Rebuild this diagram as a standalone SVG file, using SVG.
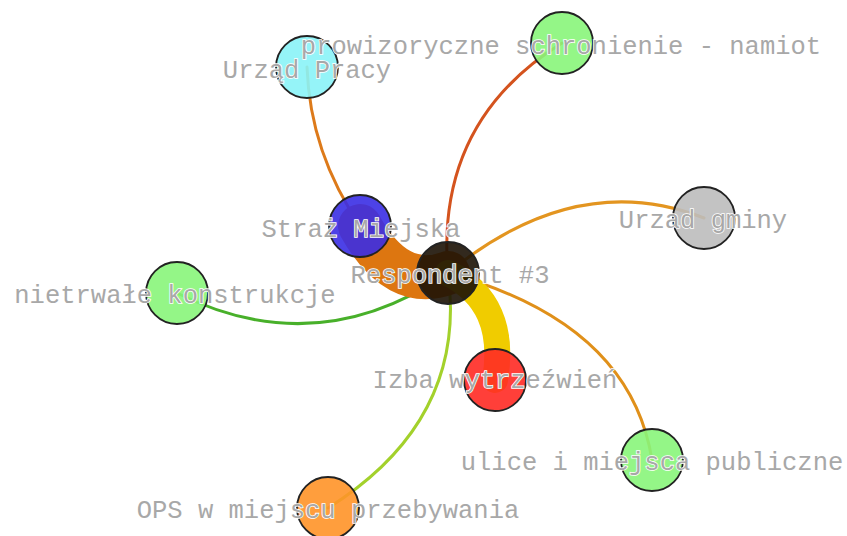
<svg xmlns="http://www.w3.org/2000/svg" width="847" height="536" viewBox="0 0 847 536">
<style>
.e{fill:none;stroke-linecap:round}
.n circle{stroke:#222;stroke-width:1.8;fill-opacity:0.9}
.l{font-family:"Liberation Mono","Courier New",monospace;font-size:25.5px;fill:#a8a8a8;stroke:#fff;stroke-width:1.6;paint-order:stroke;text-anchor:middle}
</style>
<rect width="847" height="536" fill="#fff"/>
<g id="edges">
<path class="e" d="M361,227 Q310,153 307,67" stroke="#dd7a1a" stroke-width="3"/>
<path class="e" d="M448,273 Q435,122 562,43" stroke="#d4531e" stroke-width="3"/>
<path class="e" d="M448,273 Q576,168 704,218" stroke="#e39520" stroke-width="3"/>
<path class="e" d="M448,273 Q630,323 652,460" stroke="#e0901a" stroke-width="3"/>
<path class="e" d="M448,273 Q468,420 328,508" stroke="#a3d12b" stroke-width="3"/>
<path class="e" d="M448,273 Q317,363 177,293" stroke="#48b02a" stroke-width="3"/>
<path class="e" d="M360,226 Q397,292 448,273" stroke="#dd7610" stroke-width="44"/>
<path class="e" d="M448,273 Q508,303 495,380" stroke="#f0cc00" stroke-width="26"/>
</g>
<g id="n-pracy" class="n"><circle cx="307" cy="67" r="31" fill="#8af3f7"/></g>
<g id="n-prow" class="n"><circle cx="562" cy="43" r="31" fill="#88f57a"/></g>
<g id="n-straz" class="n"><circle cx="360" cy="226" r="31" fill="#3a2de4"/></g>
<g id="n-gminy" class="n"><circle cx="704" cy="218" r="31" fill="#bdbdbd"/></g>
<g id="n-niet" class="n"><circle cx="177" cy="293" r="31" fill="#88f57a"/></g>
<g id="n-resp" class="n"><circle cx="448" cy="273" r="31" fill="#1c1205"/></g>
<g id="n-izba" class="n"><circle cx="495" cy="380" r="31" fill="#ff2a24"/></g>
<g id="n-ulice" class="n"><circle cx="652" cy="460" r="31" fill="#88f57a"/></g>
<g id="n-ops" class="n"><circle cx="328" cy="508" r="31" fill="#ff9428"/></g>
<g id="labels">
<text class="l" x="307" y="78">Urząd Pracy</text>
<text class="l" x="561" y="54">prowizoryczne schronienie - namiot</text>
<text class="l" x="361" y="237">Straż Miejska</text>
<text class="l" x="703" y="228">Urzad gminy</text>
<text class="l" x="175" y="303">nietrwałe konstrukcje</text>
<text class="l" x="450" y="283">Respondent #3</text>
<text class="l" x="495" y="388">Izba wytrzeźwień</text>
<text class="l" x="652" y="470">ulice i miejsca publiczne</text>
<text class="l" x="328" y="518">OPS w miejscu przebywania</text>
</g>
</svg>
